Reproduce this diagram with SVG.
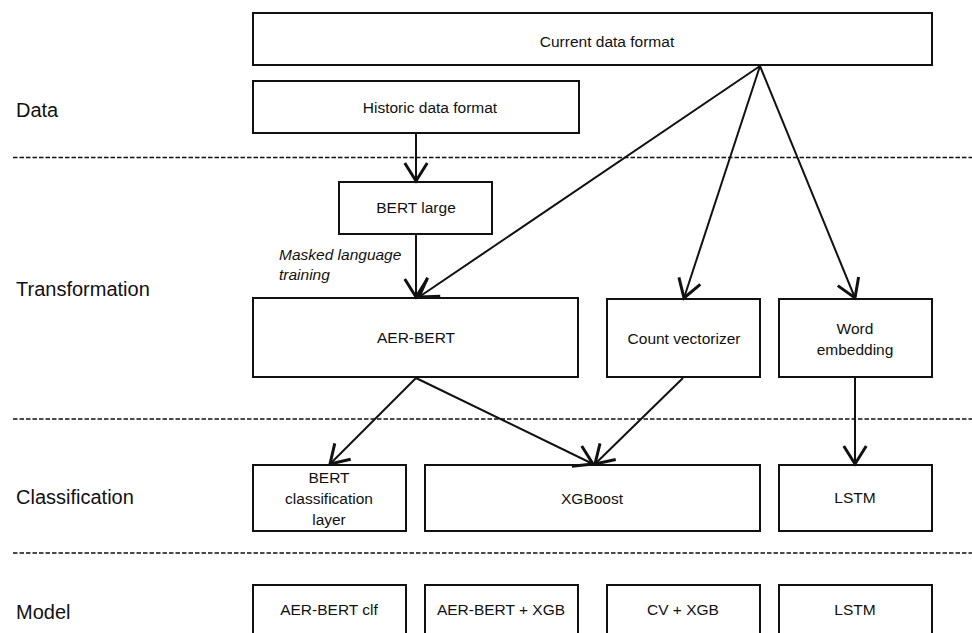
<svg xmlns="http://www.w3.org/2000/svg" width="972" height="633" viewBox="0 0 972 633">
<style>
.box{fill:#fff;stroke:#111;stroke-width:2}
.t{font-family:"Liberation Sans",Arial,sans-serif;font-size:15.5px;fill:#111;text-anchor:middle}
.lab{font-family:"Liberation Sans",Arial,sans-serif;font-size:20px;fill:#111}
.it{font-family:"Liberation Sans",Arial,sans-serif;font-size:15.5px;font-style:italic;fill:#111}
.dash{stroke:#111;stroke-width:1.6;stroke-dasharray:4.5 2}
.c{stroke:#111;stroke-width:2;fill:none;marker-end:url(#arr)}
</style>
<defs>
<marker id="arr" markerUnits="userSpaceOnUse" markerWidth="30" markerHeight="30" viewBox="-16 -10 20 20" refX="0" refY="0" orient="auto" overflow="visible">
<path d="M-12,-7.5 L0,0 L-12,7.5" fill="none" stroke="#111" stroke-width="2"/>
</marker>
</defs>
<rect width="972" height="633" fill="#fff"/>
<g id="separators">
<line class="dash" x1="13" y1="157.5" x2="972" y2="157.5"/>
<line class="dash" x1="13" y1="419" x2="972" y2="419"/>
<line class="dash" x1="13" y1="553" x2="972" y2="553"/>
</g>
<g id="labels">
<text class="lab" x="16" y="117">Data</text>
<text class="lab" x="16" y="296">Transformation</text>
<text class="lab" x="16" y="504">Classification</text>
<text class="lab" x="16" y="619">Model</text>
</g>
<g id="current"><rect class="box" x="253" y="13" width="679" height="52"/><text class="t" x="607" y="47">Current data format</text></g>
<g id="historic"><rect class="box" x="253" y="81" width="326" height="52"/><text class="t" x="430" y="113">Historic data format</text></g>
<g id="bertlarge"><rect class="box" x="339" y="182" width="153" height="52"/><text class="t" x="416" y="213">BERT large</text></g>
<g id="aerbert"><rect class="box" x="253" y="298" width="325" height="79"/><text class="t" x="416" y="343">AER-BERT</text></g>
<g id="countvec"><rect class="box" x="607" y="299" width="153" height="78"/><text class="t" x="684" y="344">Count vectorizer</text></g>
<g id="wordemb"><rect class="box" x="779" y="299" width="153" height="78"/><text class="t" x="855" y="334">Word</text><text class="t" x="855" y="355">embedding</text></g>
<g id="bertclf"><rect class="box" x="253" y="465" width="153" height="66"/><text class="t" x="329" y="483">BERT</text><text class="t" x="329" y="504">classification</text><text class="t" x="329" y="525">layer</text></g>
<g id="xgboost"><rect class="box" x="425" y="465" width="335" height="66"/><text class="t" x="592" y="504">XGBoost</text></g>
<g id="lstm"><rect class="box" x="779" y="465" width="153" height="66"/><text class="t" x="855" y="503">LSTM</text></g>
<g id="m-aerclf"><rect class="box" x="253" y="585" width="153" height="70"/><text class="t" x="329" y="615">AER-BERT clf</text></g>
<g id="m-aerxgb"><rect class="box" x="425" y="585" width="153" height="70"/><text class="t" x="501" y="615">AER-BERT + XGB</text></g>
<g id="m-cvxgb"><rect class="box" x="607" y="585" width="153" height="70"/><text class="t" x="683" y="615">CV + XGB</text></g>
<g id="m-lstm"><rect class="box" x="779" y="585" width="153" height="70"/><text class="t" x="855" y="615">LSTM</text></g>
<g id="note"><text class="it" x="279" y="260">Masked language</text><text class="it" x="279" y="280">training</text></g>
<g id="connectors">
<line class="c" x1="416" y1="134" x2="416" y2="181"/>
<line class="c" x1="416" y1="235" x2="416" y2="297"/>
<line class="c" x1="760" y1="66" x2="419" y2="297"/>
<line class="c" x1="760" y1="66" x2="684" y2="298"/>
<line class="c" x1="760" y1="66" x2="855" y2="298"/>
<line class="c" x1="416" y1="378" x2="330" y2="464"/>
<line class="c" x1="416" y1="378" x2="593" y2="464"/>
<line class="c" x1="683" y1="378" x2="595" y2="464"/>
<line class="c" x1="855" y1="378" x2="855" y2="464"/>
</g>
</svg>
